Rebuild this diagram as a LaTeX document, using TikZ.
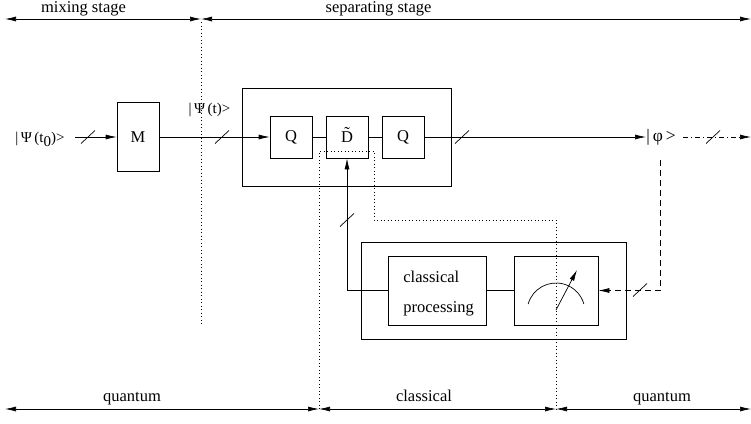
\documentclass[tikz,border=0pt]{standalone}
\usepackage{fontspec}
\setmainfont{Liberation Serif}
\usetikzlibrary{arrows.meta,calc}

% short diagonal stroke marking a bundle of lines
\newcommand\bundletick[1]{\draw[tickline] ($#1+(-7,6.5)$) -- ($#1+(7,-6.5)$);}
% capital D with a tilde set above it
\newcommand\tildeD{\ooalign{D\cr\hidewidth\raisebox{0.22em}{\char"02DC}\hidewidth\cr}}

\begin{document}
\begin{tikzpicture}[x=1pt,y=-1pt,line width=0.7pt,
  >={Latex[length=11pt,width=5pt]},
  txt/.style={font=\fontsize{16.5}{19}\selectfont,inner sep=0pt},
  ketlbl/.style={font=\fontsize{15}{17}\selectfont,inner sep=0pt},
  blk/.style={draw,minimum width=42pt,minimum height=42pt,inner sep=0pt,
              font=\fontsize{16.5}{19}\selectfont},
  frame/.style={draw,inner sep=0pt},
  tickline/.style={line width=0.7pt},
  dotline/.style={line width=0.8pt,dash pattern=on 0.8pt off 2.7pt},
  dashline/.style={dash pattern=on 6pt off 4pt},
  dashdotline/.style={dash pattern=on 5pt off 3pt on 1pt off 3pt},
  span/.style={{Latex[length=11pt,width=5pt]}-{Latex[length=11pt,width=5pt]}}]

\useasboundingbox (0,0) rectangle (751,423);

% stage spans at the top
\coordinate (topL) at (5,19);
\coordinate (topM) at (201,19);
\coordinate (topR) at (751,19);
\draw[span] (topL) -- (topM);
\draw[span] (topM) -- (topR);
\node[txt,anchor=base] (mixlbl) at (83.5,12.5) {mixing stage};
\node[txt,anchor=base] (seplbl) at (378.5,12.5) {separating stage};

% domain spans at the bottom
\coordinate (botL) at (5,409);
\coordinate (botA) at (319,409);
\coordinate (botB) at (556,409);
\coordinate (botR) at (751,409);
\draw[span] (botL) -- (botA);
\draw[span] (botA) -- (botB);
\draw[span] (botB) -- (botR);
\node[txt,anchor=base] (qlbl1) at (132,401) {quantum};
\node[txt,anchor=base] (clbl) at (424,401) {classical};
\node[txt,anchor=base] (qlbl2) at (662,401) {quantum};

% boundary between the stages
\coordinate (stA) at (201,22);
\coordinate (stB) at (201,325);
\draw[dotline] (stA) -- (stB);

% mixing stage
\node[blk,minimum height=69pt] (M) at (138,137) {M};
\coordinate (in) at (75,137);
\node[ketlbl,anchor=base] (psi0) at (40,142)
  {|\,Ψ\,(t\raisebox{-0.3em}{0})>};
\draw[->] (in) -- (M.west);
\bundletick{(88,137)}

% separating stage: quantum part
\node[frame,minimum width=209pt,minimum height=98pt] (qbox) at (346.5,137) {};
\node[blk] (Q1) at (291,137) {Q};
\node[blk] (D) at (347,137) {\tildeD};
\node[blk] (Q2) at (403,137) {Q};
\node[ketlbl,anchor=base] (psit) at (209.5,113) {|\,Ψ\,(t)>};
\draw[->] (M.east) -- (Q1.west);
\bundletick{(222,137)}
\draw (Q1.east) -- (D.west);
\draw (D.east) -- (Q2.west);

\node[txt,font=\fontsize{17.5}{20}\selectfont,anchor=west] (phi) at (646,137) {|\,φ\,>};
\draw[->] (Q2.east) -- (phi.west);
\bundletick{(462,137)}
\coordinate (out) at (751,137);
\draw[dashdotline,->] (phi.east) ++(7,0) coordinate (phiR) -- (out);
\bundletick{(713,137)}

% separating stage: classical part
\node[frame,minimum width=265pt,minimum height=97pt] (cbox) at (493.5,290.5) {};
\node[draw,minimum width=98pt,minimum height=69pt,inner sep=0pt] (proc) at (437,290.5) {};
\node[txt,anchor=base west] (proc1) at (403,282) {classical};
\node[txt,anchor=base west] (proc2) at (403,312) {processing};
\node[draw,minimum width=84pt,minimum height=69pt,inner sep=0pt] (meter) at (556,290.5) {};

% meter dial and needle
\coordinate (pivot) at (556,312);
\draw (pivot) ++(164:29pt) arc[start angle=164,end angle=16,radius=29pt];
\coordinate (needle) at (577,270);
\draw[->] (556,310) -- (needle);

\draw (proc.east) -- (meter.west);
\draw[->] (proc.west) -| (D.south);
\bundletick{(347,220)}

\coordinate (phidrop) at (660,160);
\draw[dashline,->] (phidrop) |- (meter.east);
\bundletick{(640,290)}

% classical/quantum boundaries
\coordinate (b1) at (319,409);
\coordinate (b1t) at (319,151);
\coordinate (b2a) at (374,151);
\coordinate (b2b) at (374,220);
\coordinate (b3a) at (556,220);
\coordinate (b3) at (556,409);
\draw[dotline] (b1) -- (b1t) -- (b2a) -- (b2b) -- (b3a) -- (b3);

\end{tikzpicture}
\end{document}
